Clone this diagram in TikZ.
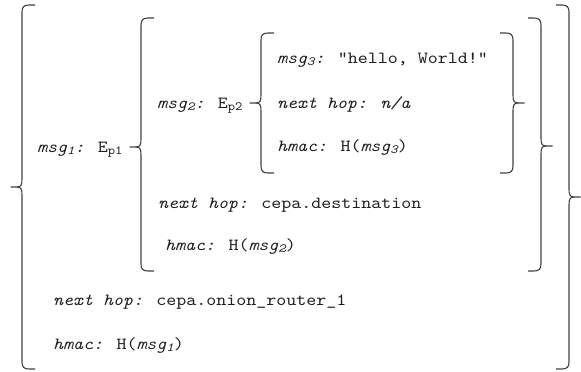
\documentclass[tikz,border=0pt]{standalone}
\usepackage{fontspec}
\newfontfamily\cour{lmmono10-regular.otf}[ItalicFont=lmmono10-italic.otf, FakeStretch=1.12]
\newcommand\sbs[1]{\raisebox{-2.5pt}{\fontsize{12.5}{13}\selectfont #1}}
% #1 X, #2 top Y, #3 tip Y, #4 bottom Y, #5 direction (1 = left brace, -1 = right brace)
\newcommand\mybrc[5]{%
  \draw[br] ({#1+13*(#5)},#2) -- ({#1+7*(#5)},#2) .. controls ({#1+2*(#5)},#2) and (#1,{#2+2}) .. (#1,{#2+7})
    -- (#1,{#3-8}) .. controls (#1,{#3-2}) and ({#1-1*(#5)},#3) .. ({#1-5*(#5)},#3)
    -- ({#1-11.5*(#5)},#3);
  \draw[br] ({#1-5*(#5)},#3) .. controls ({#1-1*(#5)},#3) and (#1,{#3+2}) .. (#1,{#3+8})
    -- (#1,{#4-7}) .. controls (#1,{#4-2}) and ({#1+2*(#5)},#4) .. ({#1+7*(#5)},#4) -- ({#1+13*(#5)},#4);
}
\begin{document}
\begin{tikzpicture}[x=1pt,y=-1pt,
  txt/.style={anchor=base west, inner sep=0pt, font=\cour\fontsize{17}{18}\selectfont, text=black!88},
  br/.style={draw=black!75, line width=1.1pt}]
\useasboundingbox (0,0) rectangle (581,372);
% braces
\mybrc{22}{5}{187}{369}{1}
\mybrc{569}{5}{197}{369}{-1}
\mybrc{141}{18}{147}{271}{1}
\mybrc{541}{18}{146}{271}{-1}
\mybrc{261}{33}{103}{173}{1}
\mybrc{513}{33}{103}{173}{-1}
% texts
\node[txt] (m1) at (37,152) {{\itshape msg\sbs{1}:} E\sbs{p1}};
\node[txt] (m2) at (157,108) {{\itshape msg\sbs{2}:} E\sbs{p2}};
\node[txt] (m3) at (277,63) {{\itshape msg\sbs{3}:} "hello, World!"};
\node[txt] (n3) at (277,108) {{\itshape next hop: n/a}};
\node[txt] (h3) at (277,151) {{\itshape hmac:} H({\itshape msg\sbs{3}})};
\node[txt] (n2) at (158,208) {{\itshape next hop:} cepa.destination};
\node[txt] (h2) at (165,250) {{\itshape hmac:} H({\itshape msg\sbs{2}})};
\node[txt] (n1) at (53,305) {{\itshape next hop:} cepa.onion\_router\_1};
\node[txt] (h1) at (53,349) {{\itshape hmac:} H({\itshape msg\sbs{1}})};
\end{tikzpicture}
\end{document}
